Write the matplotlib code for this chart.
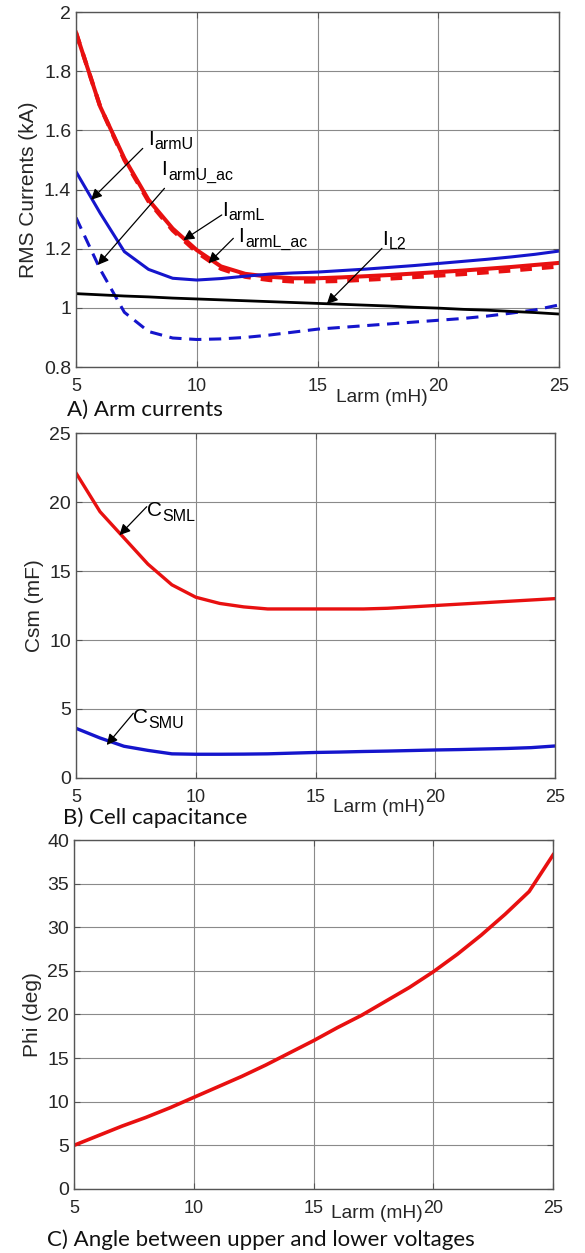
import numpy as np
import matplotlib
matplotlib.use('Agg')
import matplotlib.pyplot as plt
from matplotlib.ticker import FormatStrFormatter

plt.rcParams['font.family'] = ['Liberation Sans', 'DejaVu Sans']

# inductance axis (mH)
larm = [5, 6, 7, 8, 9, 10, 11, 12, 13, 14, 15, 16, 17, 18, 19, 20, 21, 22, 23, 24, 25]

# A) arm currents (kA)
i_armU = [1.46, 1.32, 1.19, 1.13, 1.10, 1.094, 1.099, 1.107, 1.114, 1.118, 1.121, 1.126,
          1.131, 1.137, 1.143, 1.150, 1.157, 1.164, 1.172, 1.181, 1.192]
i_armU_ac = [1.305, 1.13, 0.985, 0.92, 0.898, 0.893, 0.895, 0.90, 0.908, 0.918, 0.928, 0.934,
             0.940, 0.946, 0.952, 0.958, 0.964, 0.972, 0.982, 0.993, 1.010]
i_armL = [1.93, 1.68, 1.505, 1.365, 1.268, 1.195, 1.14, 1.115, 1.105, 1.10, 1.10, 1.103,
          1.107, 1.111, 1.116, 1.121, 1.126, 1.132, 1.138, 1.145, 1.152]
i_armL_ac = [1.93, 1.68, 1.50, 1.36, 1.262, 1.188, 1.132, 1.105, 1.094, 1.089, 1.089, 1.091,
             1.095, 1.099, 1.104, 1.109, 1.114, 1.120, 1.126, 1.133, 1.140]
i_L2 = [1.048, 1.044, 1.040, 1.037, 1.033, 1.030, 1.027, 1.024, 1.021, 1.018, 1.015, 1.012,
        1.009, 1.006, 1.002, 0.999, 0.995, 0.992, 0.988, 0.984, 0.979]

# B) cell capacitance (mF)
c_sml = [22.1, 19.3, 17.4, 15.5, 14.0, 13.1, 12.65, 12.4, 12.25, 12.25, 12.25, 12.25,
         12.25, 12.3, 12.4, 12.5, 12.6, 12.7, 12.8, 12.9, 13.0]
c_smu = [3.6, 2.9, 2.3, 2.0, 1.75, 1.72, 1.72, 1.73, 1.75, 1.8, 1.85, 1.88,
         1.92, 1.95, 1.99, 2.03, 2.06, 2.1, 2.14, 2.2, 2.32]

# C) angle (deg)
phi = [5.0, 6.1, 7.2, 8.2, 9.3, 10.5, 11.7, 12.9, 14.2, 15.6, 17.0, 18.5,
       19.9, 21.5, 23.1, 24.9, 26.9, 29.1, 31.5, 34.1, 38.3]

RED = '#e81010'
BLUE = '#1515cc'
TXT = '#262626'

fig = plt.figure(figsize=(5.85, 12.53), dpi=100)
axA = fig.add_axes([0.130, 0.7071, 0.826, 0.2833])
axB = fig.add_axes([0.130, 0.3791, 0.819, 0.2753])
axC = fig.add_axes([0.1265, 0.0511, 0.819, 0.2785])


def style(ax, ylim, yticks, ylabel, xlab_y):
    ax.set_xlim(5, 25)
    ax.set_xticks([5, 10, 15, 20, 25])
    ax.set_ylim(*ylim)
    ax.set_yticks(yticks)
    ax.yaxis.set_major_formatter(FormatStrFormatter('%g'))
    ax.grid(True, color='#8a8a8a', lw=0.8)
    ax.set_axisbelow(True)
    for s in ax.spines.values():
        s.set_color('#555555')
        s.set_linewidth(1.0)
    ax.tick_params(direction='in', top=True, right=True, length=4, color='#555555',
                   labelcolor=TXT)
    ax.tick_params(axis='x', pad=8, labelsize=13)
    ax.tick_params(axis='y', pad=3.5, labelsize=14)
    ax.set_ylabel(ylabel, fontsize=15, color=TXT, labelpad=4)
    ax.text(17.65, xlab_y, 'Larm (mH)', transform=ax.get_xaxis_transform(),
            ha='center', va='center', fontsize=13.8, color=TXT)


def label(ax, x, y, main, sub, w):
    # main letter + subscript, (x, y) = left end of the main letter baseline
    ax.text(x, y, main, fontsize=15, ha='left', va='baseline', color='k')
    ax.annotate(sub, xy=(x, y), xytext=(w, -3.5), textcoords='offset points',
                fontsize=11.5, ha='left', va='baseline', color='k')


def arrow(ax, tip, tail):
    ax.annotate('', xy=tip, xytext=tail,
                arrowprops=dict(arrowstyle='-|>', color='k', lw=0.9,
                                mutation_scale=16, shrinkA=0, shrinkB=0))


# ---- A) arm currents
axA.plot(larm, i_armL_ac, color=RED, lw=3.0, dashes=(2.8, 2.4))
axA.plot(larm, i_armL, color=RED, lw=2.9)
axA.plot(larm, i_armU, color=BLUE, lw=2.2)
axA.plot(larm, i_armU_ac, color=BLUE, lw=2.2, dashes=(4, 2.5))
axA.plot(larm, i_L2, color='k', lw=2.0)
style(axA, (0.8, 2.0), [0.8, 1.0, 1.2, 1.4, 1.6, 1.8, 2.0], 'RMS Currents (kA)', -0.085)

label(axA, 7.97, 1.552, 'I', 'armU', 5.0)
arrow(axA, (5.62, 1.365), (7.76, 1.539))
label(axA, 8.52, 1.450, 'I', 'armU_ac', 5.0)
arrow(axA, (5.9, 1.145), (8.66, 1.404))
label(axA, 11.03, 1.312, 'I', 'armL', 5.0)
arrow(axA, (9.44, 1.229), (11.03, 1.314))
label(axA, 11.72, 1.222, 'I', 'armL_ac', 5.0)
arrow(axA, (10.48, 1.151), (11.51, 1.235))
label(axA, 17.66, 1.214, 'I', 'L2', 5.0)
arrow(axA, (15.38, 1.013), (17.66, 1.201))

# ---- B) cell capacitance
axB.plot(larm, c_sml, color=RED, lw=2.4)
axB.plot(larm, c_smu, color=BLUE, lw=2.4)
style(axB, (0, 25), [0, 5, 10, 15, 20, 25], 'Csm (mF)', -0.087)
label(axB, 7.95, 19.0, 'C', 'SML', 11.0)
arrow(axB, (6.81, 17.6), (7.95, 19.66))
label(axB, 7.37, 3.95, 'C', 'SMU', 11.0)
arrow(axB, (6.28, 2.39), (7.39, 4.69))

# ---- C) angle
axC.plot(larm, phi, color=RED, lw=2.6)
style(axC, (0, 40), [0, 5, 10, 15, 20, 25, 30, 35, 40], 'Phi (deg)', -0.069)

cap = dict(fontsize=16, family=['Lato', 'DejaVu Sans'], color='#111111',
           ha='left', va='center')
fig.text(67 / 585, 1 - 410 / 1253, 'A) Arm currents', **cap)
fig.text(63 / 585, 1 - 818 / 1253, 'B) Cell capacitance', **cap)
fig.text(47 / 585, 1 - 1240 / 1253, 'C) Angle between upper and lower voltages', **cap)

fig.savefig('out.png', dpi=100)
